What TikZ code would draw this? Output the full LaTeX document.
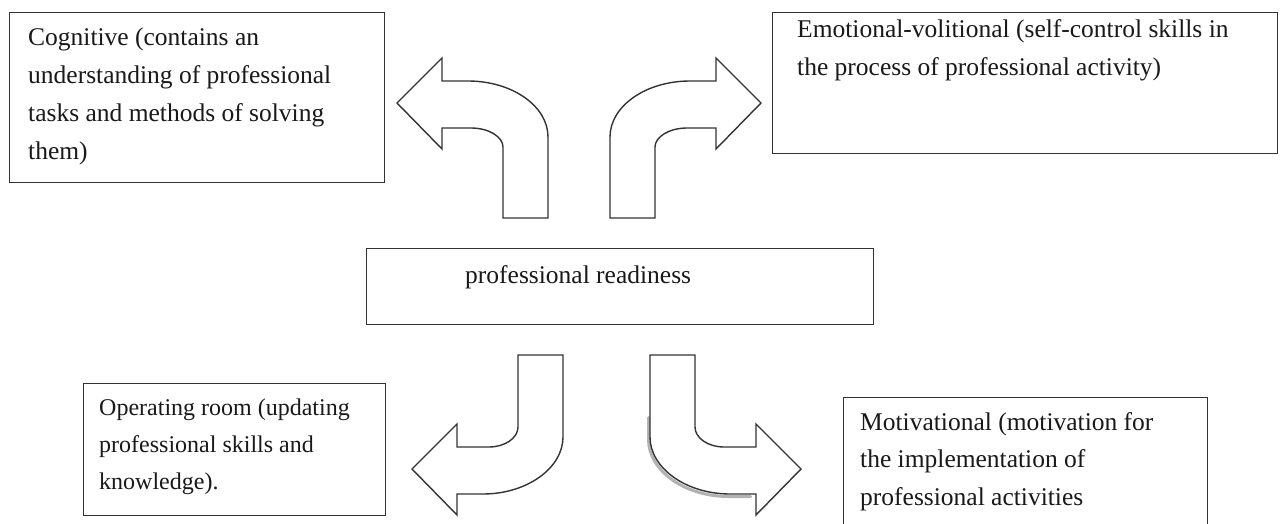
\documentclass[tikz,border=0pt]{standalone}
\usepackage{fontspec}
\setmainfont{Liberation Serif}
\begin{document}
\begin{tikzpicture}[x=1pt,y=-1pt,
  box/.style={draw=black!80, line width=1.4pt, fill=white, inner sep=0pt, anchor=north west},
  txt/.style={anchor=base west, inner sep=0pt, text=black!90, font=\fontsize{25.5}{38}\selectfont},
  smalltxt/.style={txt, font=\fontsize{24}{37}\selectfont},
  bendarrow/.style={draw=black!80, line width=1.4pt, fill=white, line join=miter},
  shade/.style={draw=black!30, line width=3pt, line cap=round}]
\useasboundingbox (0,0) rectangle (1283,524);
\clip (0,0) rectangle (1283,524);

% frames
\node[box, minimum width=375pt, minimum height=170pt] (cog) at (9,12) {};
\node[box, minimum width=505pt, minimum height=141pt] (emo) at (772,12) {};
\node[box, minimum width=507pt, minimum height=76pt]  (core) at (366,248) {};
\node[box, minimum width=302pt, minimum height=132pt] (oper) at (83,383) {};
\node[box, minimum width=364pt, minimum height=140pt] (moti) at (843,397) {};

% texts
\node[txt] (cog1) at (28,46)  {Cognitive (contains an};
\node[txt] (cog2) at (28,84)  {understanding of professional};
\node[txt] (cog3) at (28,122) {tasks and methods of solving};
\node[txt] (cog4) at (28,160) {them)};

\node[txt] (emo1) at (797,38) {Emotional-volitional (self-control skills in};
\node[txt] (emo2) at (797,76) {the process of professional activity)};

\node[txt] (core1) at (465,283) {professional readiness};

\node[smalltxt] (oper1) at (99,415) {Operating room (updating};
\node[smalltxt] (oper2) at (99,452) {professional skills and};
\node[smalltxt] (oper3) at (99,489) {knowledge).};

\node[txt] (moti1) at (860,430) {Motivational (motivation for};
\node[txt] (moti2) at (860,467) {the implementation of};
\node[txt] (moti3) at (860,505) {professional activities};

% upper left bent arrow
\path[bendarrow] (548,218) -- (548,137) .. controls (548,106) and (512,81) .. (468,81)
  -- (442,81) -- (442,58) -- (397,103) -- (442,149) -- (442,128) -- (471,128)
  .. controls (489,128) and (503,137) .. (503,147) -- (503,218) -- cycle;

% upper right bent arrow
\path[bendarrow] (610,218) -- (610,137) .. controls (610,106) and (646,81) .. (690,81)
  -- (716,81) -- (716,58) -- (761,103) -- (716,149) -- (716,128) -- (687,128)
  .. controls (669,128) and (655,137) .. (655,147) -- (655,218) -- cycle;

% lower left bent arrow
\path[bendarrow] (563,355) -- (518,355) -- (518,427) .. controls (518,438) and (505,447) .. (489,447)
  -- (457,447) -- (457,424) -- (412,469) -- (457,515) -- (457,494) -- (483,494)
  .. controls (527,494) and (563,468) .. (563,437) -- cycle;

% lower right bent arrow, with a soft shadow along its outer bend
\draw[shade, shift={(-1.5,2.5)}] (650,415) -- (650,437) .. controls (650,468) and (686,494) .. (730,494) -- (752,494);
\path[bendarrow] (650,355) -- (695,355) -- (695,427) .. controls (695,438) and (708,447) .. (724,447)
  -- (756,447) -- (756,424) -- (801,469) -- (756,515) -- (756,494) -- (730,494)
  .. controls (686,494) and (650,468) .. (650,437) -- cycle;
\end{tikzpicture}
\end{document}
